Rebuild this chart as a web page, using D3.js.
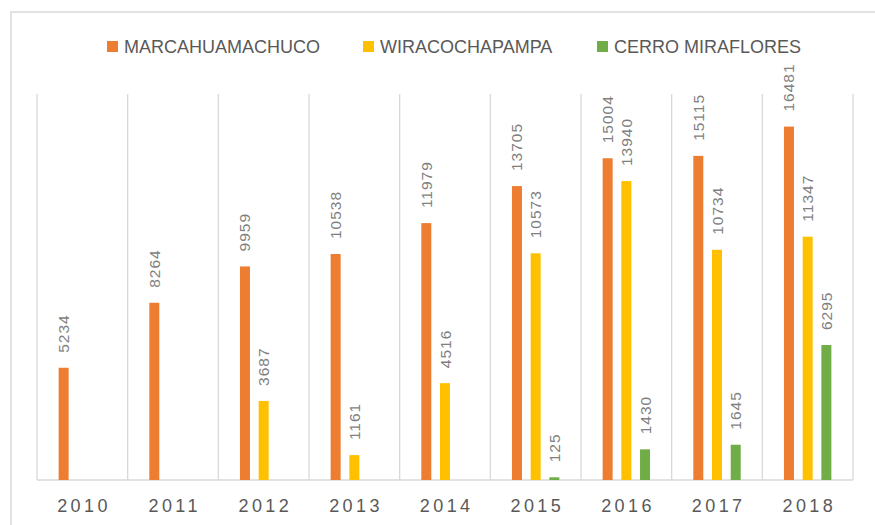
<!DOCTYPE html>
<html><head><meta charset="utf-8">
<script src="https://cdn.jsdelivr.net/npm/d3@7"></script>
<style>body{margin:0;background:#fff}svg{display:block}</style>
</head><body>
<svg id="c" width="875" height="525"></svg>
<script>
const years = ["2010","2011","2012","2013","2014","2015","2016","2017","2018"];
const seriesNames = ["MARCAHUAMACHUCO","WIRACOCHAPAMPA","CERRO MIRAFLORES"];
const marcahuamachuco = [5234, 8264, 9959, 10538, 11979, 13705, 15004, 15115, 16481];
const wiracochapampa = [null, null, 3687, 1161, 4516, 10573, 13940, 10734, 11347];
const cerroMiraflores = [null, null, null, null, null, 125, 1430, 1645, 6295];
const colors = ["#ED7D31","#FFC000","#70AD47"];
const seriesValues = [marcahuamachuco, wiracochapampa, cerroMiraflores];

const svg = d3.select("#c");
const font = "'Liberation Sans', Arial, sans-serif";

// chart border
svg.append("rect").attr("x",11).attr("y",12).attr("width",900).attr("height",600)
  .attr("fill","#fff").attr("stroke","#d9d9d9").attr("stroke-width",1.5);

const x = d3.scaleBand().domain(years).range([37, 853]).padding(0);
const y = d3.scaleLinear().domain([0, 18000]).range([480, 94]);
const inner = d3.scaleBand().domain(d3.range(3)).range([-28, 28]).paddingInner(0.45).paddingOuter(0);

// vertical gridlines at category boundaries
const bounds = years.map(d => x(d)).concat([x.range()[1]]);
svg.append("g").selectAll("line").data(bounds).join("line")
  .attr("x1", d => d).attr("x2", d => d).attr("y1", y(18000)).attr("y2", y(0))
  .attr("stroke","#d9d9d9").attr("stroke-width",1.3);

// baseline
svg.append("line").attr("x1",x.range()[0]).attr("x2",x.range()[1])
  .attr("y1",y(0)).attr("y2",y(0)).attr("stroke","#d9d9d9").attr("stroke-width",1.5);

// bars and labels
const barW = 10;
seriesValues.forEach((vals, si) => {
  const data = years.map((yr, i) => ({yr, v: vals[i]})).filter(d => d.v != null);
  const cx = d => x(d.yr) + x.bandwidth()/2 + (si - 1) * 18.7;
  svg.append("g").selectAll("rect").data(data).join("rect")
    .attr("x", d => cx(d) - barW/2).attr("width", barW)
    .attr("y", d => y(d.v)).attr("height", d => y(0) - y(d.v))
    .attr("fill", colors[si]);
  svg.append("g").selectAll("text").data(data).join("text")
    .attr("transform", d => `translate(${cx(d) + 5.5},${y(d.v) - 15}) rotate(-90)`)
    .attr("text-anchor","start")
    .attr("font-family", font).attr("font-size", 15.5).attr("letter-spacing", 1)
    .attr("fill", "#7f7f7f")
    .text(d => d.v);
});

// x axis labels
svg.append("g").selectAll("text").data(years).join("text")
  .attr("x", d => x(d) + x.bandwidth()/2 + 1.7).attr("y", 511.5)
  .attr("text-anchor","middle").attr("font-family", font).attr("font-size", 18)
  .attr("letter-spacing", 3.4).attr("fill","#595959")
  .text(d => d);

// legend
const legendX = [107, 363, 597];
const lg = svg.append("g").selectAll("g").data(seriesNames).join("g")
  .attr("transform", (d,i) => `translate(${legendX[i]},0)`);
lg.append("rect").attr("x",0).attr("y",41).attr("width",11).attr("height",11)
  .attr("fill", (d,i) => colors[i]);
lg.append("text").attr("x",17).attr("y",53).attr("font-family", font)
  .attr("font-size",18).attr("fill","#595959").text(d => d);
</script>
</body></html>
